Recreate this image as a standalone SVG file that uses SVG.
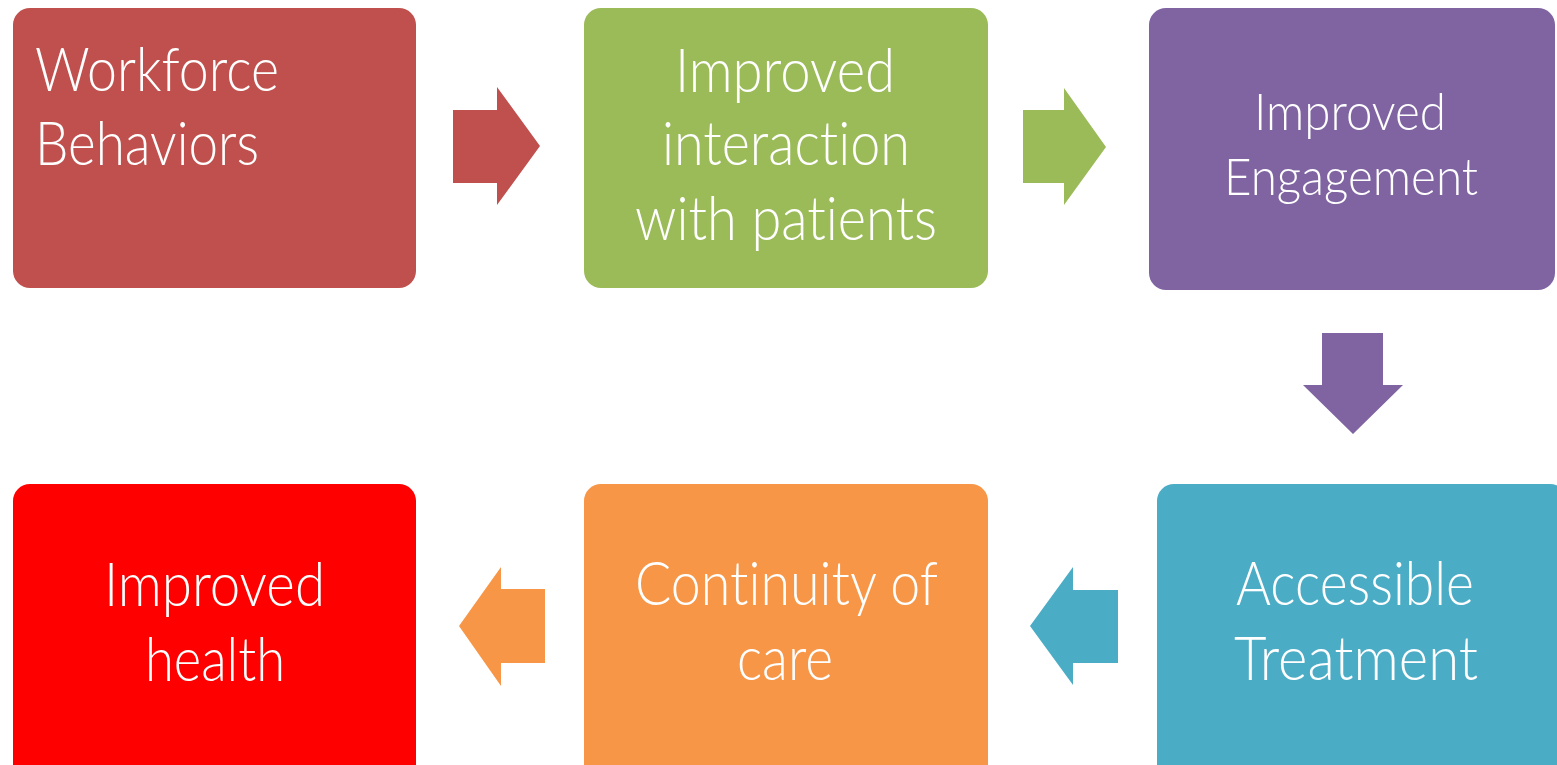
<svg xmlns="http://www.w3.org/2000/svg" width="1557" height="765" viewBox="0 0 1557 765">
<style>
.lbl{font-family:Lato,"Open Sans","Liberation Sans",sans-serif;font-weight:300;fill:#ffffff;font-size:61px;font-variant-ligatures:none;font-feature-settings:"liga" 0;}
.sm{font-size:52px;}
</style>
<rect width="1557" height="765" fill="#ffffff"/>
<g id="connectors">
<polygon fill="#C0504D" points="453,110 497,110 497,87 540,146 497,205 497,183 453,183"/>
<polygon fill="#9BBB59" points="1023,110 1064,110 1064,88 1106,147 1064,205 1064,183 1023,183"/>
<polygon fill="#8064A2" points="1322,333 1383,333 1383,385 1403,385 1353,434 1303,385 1322,385"/>
<polygon fill="#4BACC6" points="1118,590 1073,590 1073,567 1030,626 1073,685 1073,663 1118,663"/>
<polygon fill="#F79646" points="545,589 501,589 501,567 459,626 501,686 501,663 545,663"/>
</g>
<g id="node-workforce">
<rect x="13" y="8" width="403" height="280" rx="17" fill="#C0504D"/>
<text class="lbl" x="35" y="91" textLength="244" lengthAdjust="spacingAndGlyphs">Workforce</text>
<text class="lbl" x="35" y="165" textLength="224" lengthAdjust="spacingAndGlyphs">Behaviors</text>
</g>
<g id="node-interaction">
<rect x="584" y="8" width="404" height="280" rx="17" fill="#9BBB59"/>
<text class="lbl" x="675" y="92" textLength="220" lengthAdjust="spacingAndGlyphs">Improved</text>
<text class="lbl" x="662" y="165" textLength="248" lengthAdjust="spacingAndGlyphs">interaction</text>
<text class="lbl" x="635" y="240" textLength="302" lengthAdjust="spacingAndGlyphs">with patients</text>
</g>
<g id="node-engagement">
<rect x="1149" y="8" width="406" height="282" rx="17" fill="#8064A2"/>
<text class="lbl sm" x="1254" y="130" textLength="192" lengthAdjust="spacingAndGlyphs">Improved</text>
<text class="lbl sm" x="1224" y="195" textLength="254" lengthAdjust="spacingAndGlyphs">Engagement</text>
</g>
<g id="node-accessible">
<rect x="1157" y="484" width="410" height="300" rx="17" fill="#4BACC6"/>
<text class="lbl" x="1236" y="605" textLength="238" lengthAdjust="spacingAndGlyphs">Accessible</text>
<text class="lbl" x="1234" y="680" textLength="244" lengthAdjust="spacingAndGlyphs">Treatment</text>
</g>
<g id="node-continuity">
<rect x="584" y="484" width="404" height="300" rx="17" fill="#F79646"/>
<text class="lbl" x="635" y="605" textLength="303" lengthAdjust="spacingAndGlyphs">Continuity of</text>
<text class="lbl" x="737" y="680" textLength="96" lengthAdjust="spacingAndGlyphs">care</text>
</g>
<g id="node-health">
<rect x="13" y="484" width="403" height="300" rx="17" fill="#FF0000"/>
<text class="lbl" x="104" y="606" textLength="221" lengthAdjust="spacingAndGlyphs">Improved</text>
<text class="lbl" x="145" y="681" textLength="140" lengthAdjust="spacingAndGlyphs">health</text>
</g>
</svg>
